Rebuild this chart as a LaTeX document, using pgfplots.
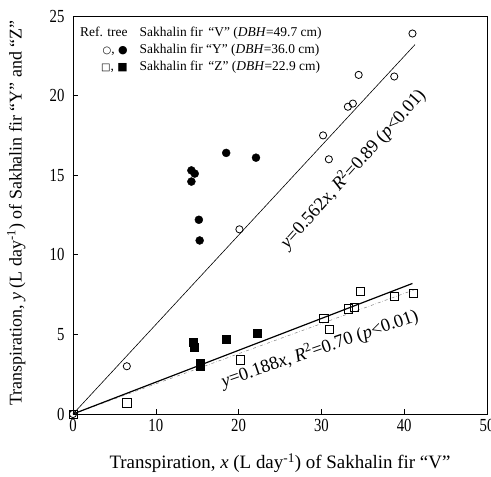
\documentclass[border=0pt]{standalone}
\usepackage{pgfplots}
\pgfplotsset{compat=1.18}
\usepackage{fontspec}
\setmainfont{Liberation Serif}
\newfontfamily\symfont{DejaVu Sans}
\newfontfamily\tickfont[FakeStretch=0.8]{Liberation Serif}
\begin{document}
\begin{tikzpicture}
\begin{axis}[
  scale only axis, width=414bp, height=398bp,
  xmin=0, xmax=50, ymin=0, ymax=25,
  xtick={0,10,...,50}, ytick={0,5,...,25},
  xtick pos=left, ytick pos=left,
  tick align=inside, major tick length=5bp,
  tick style={black, line width=0.6pt},
  /pgf/number format/assume math mode=true,
  tick label style={font=\tickfont\fontsize{18.5}{18.5}\selectfont},
  yticklabel style={xshift=-5bp},
  xticklabel style={yshift=-2bp},
  xlabel={Transpiration, \textit{x} (L day\textsuperscript{-1}) of Sakhalin fir “V”},
  ylabel={Transpiration, \textit{y} (L day\textsuperscript{-1}) of Sakhalin fir “Y” and “Z”},
  xlabel style={font=\fontsize{19}{22}\selectfont, at={(axis description cs:0.5,-0.123)}, anchor=center},
  ylabel style={font=\fontsize{18}{22}\selectfont, at={(axis description cs:-0.137,0.505)}, anchor=center},
  axis line style={line width=0.8pt},
  clip=false,
]
% regression lines
\addplot[black, line width=0.6pt] coordinates {(0,0) (41.3,23.2)};
\addplot[gray, dash dot, line width=0.5pt] coordinates {(0,0) (41.2,7.8)};
\addplot[black, line width=1.2pt] coordinates {(0,0) (41.0,8.2)};
% Y open circles
\addplot[only marks, mark=o, mark size=3.6bp, mark options={black, fill=white, line width=0.8pt}] coordinates {
(0,0) (6.5,3.0) (20.1,11.6) (30.2,17.5) (30.9,16.0) (33.2,19.3) (33.8,19.5) (34.5,21.3) (38.8,21.2) (41.0,23.9)};
% Y filled circles
\addplot[only marks, mark=*, mark size=4bp, mark options={black, fill=black}] coordinates {
(14.3,15.3) (14.7,15.1) (14.3,14.6) (18.5,16.4) (22.1,16.1) (15.2,12.2) (15.3,10.9)};
% Z open squares
\addplot[only marks, mark=square, mark size=4.1bp, mark options={black, fill=white, line width=0.8pt}] coordinates {
(0,0) (6.5,0.7) (20.2,3.4) (30.3,6.0) (31.0,5.3) (33.3,6.6) (34.0,6.7) (34.7,7.7) (38.8,7.4) (41.1,7.6)};
% Z filled squares
\addplot[only marks, mark=square*, mark size=3.9bp, mark options={black, fill=black}] coordinates {
(14.5,4.5) (14.6,4.2) (15.4,3.0) (15.4,3.2) (18.5,4.7) (22.2,5.1)};
% annotations
\node[rotate=48, font=\fontsize{18.5}{18.5}\selectfont] at (axis cs:33.8,15.4)
  {\textit{y}=0.562\textit{x}, \textit{R}\textsuperscript{2}=0.89 (\textit{p}<0.01)};
\node[rotate=19, font=\fontsize{18.5}{18.5}\selectfont] at (axis cs:29.8,4.1)
  {\textit{y}=0.188\textit{x}, \textit{R}\textsuperscript{2}=0.70 (\textit{p}<0.01)};
% legend
\node[anchor=north west, inner sep=0pt, font=\fontsize{13.5}{17}\selectfont] at (axis cs:0.85,24.45) {%
  \begin{tabular}{@{}r@{\hspace{12bp}}l@{}}
  Ref. tree & Sakhalin fir \,“V” (\textit{DBH}=49.7 cm)\\
  {\symfont\fontsize{10}{17}\selectfont ○}, {\symfont\fontsize{11}{17}\selectfont ●} & Sakhalin fir “Y” (\textit{DBH}=36.0 cm)\\
  {\symfont\fontsize{10}{17}\selectfont □}, {\symfont\fontsize{11}{17}\selectfont ■} & Sakhalin fir \,“Z” (\textit{DBH}=22.9 cm)
  \end{tabular}};
\coordinate (bl) at (rel axis cs:0,0);
\coordinate (tr) at (rel axis cs:1,1);
\end{axis}
\pgfresetboundingbox
\path ([shift={(-73bp,-63bp)}]bl) rectangle ([shift={(4bp,16bp)}]tr);
\end{tikzpicture}
\end{document}
